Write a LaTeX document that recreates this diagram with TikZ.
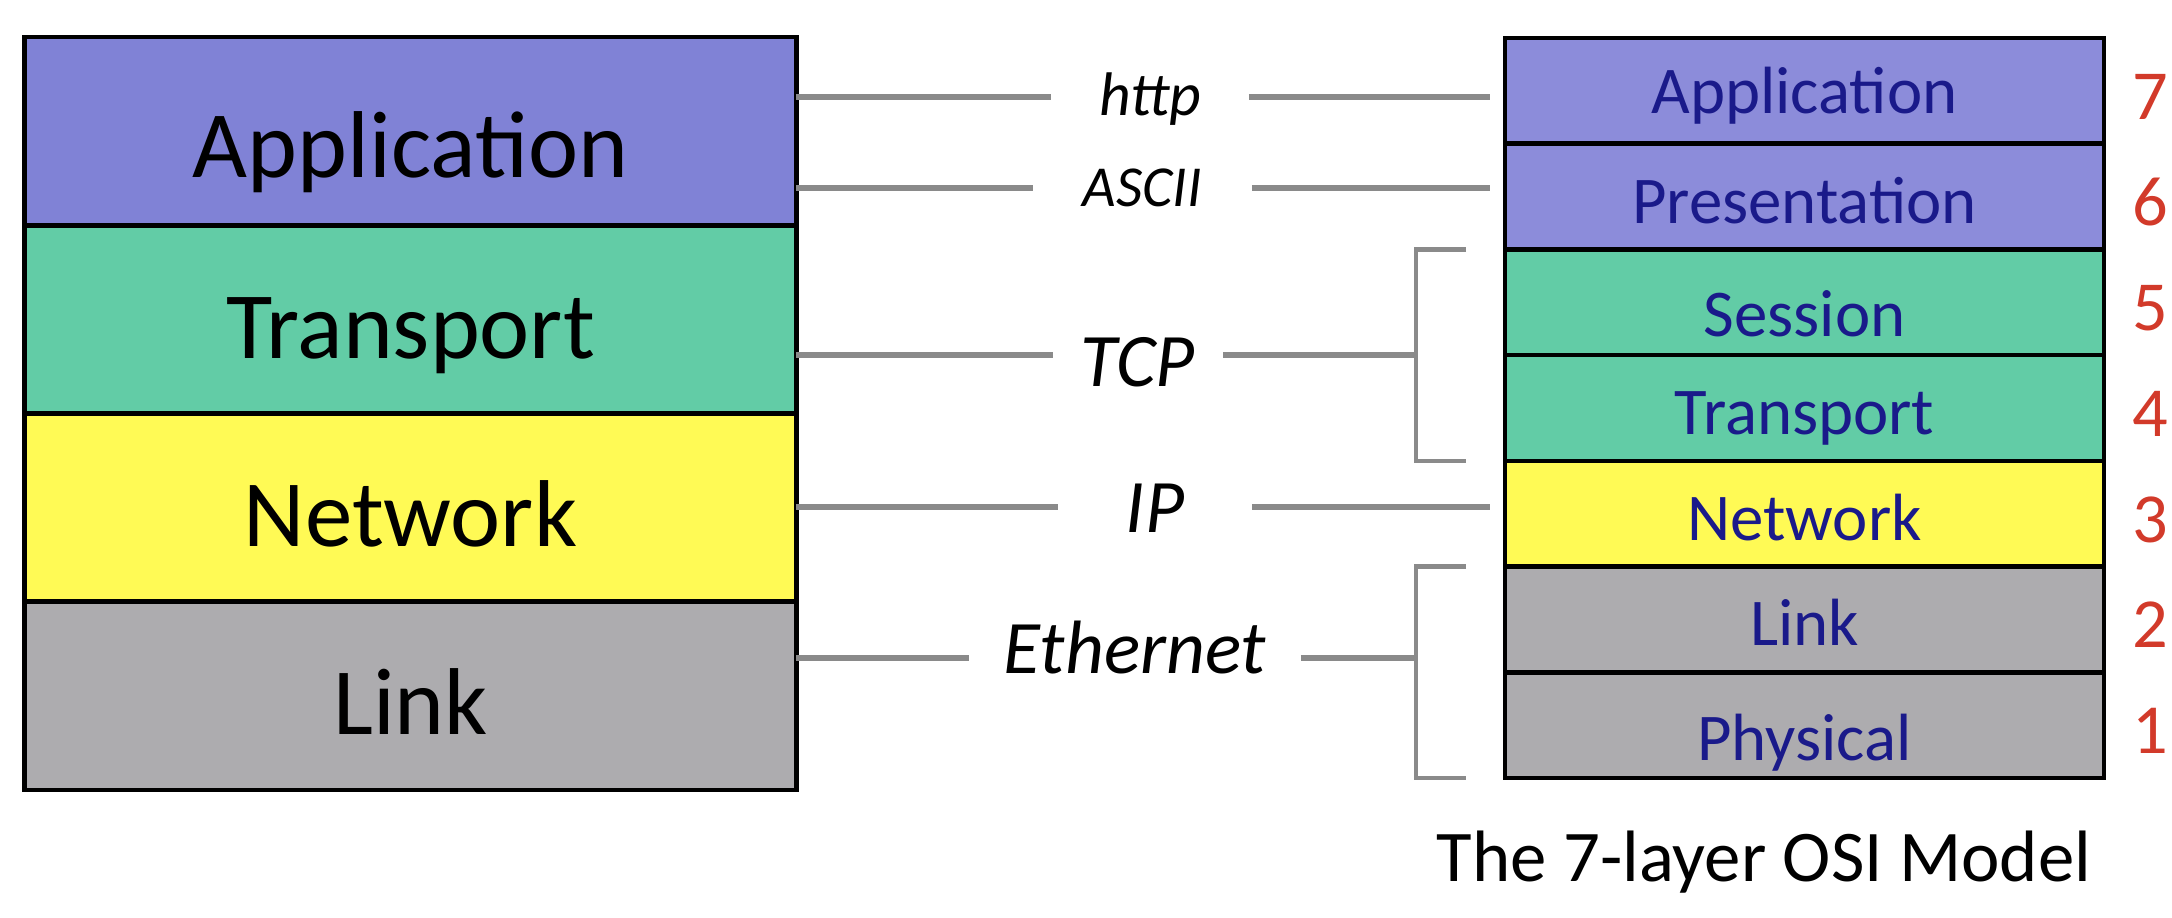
\documentclass[tikz,border=0pt]{standalone}
\usepackage{fontspec}
\setmainfont{Carlito}
\usetikzlibrary{calc}

\definecolor{appblue}{HTML}{8082D6}
\definecolor{appblueR}{HTML}{8C8CDA}
\definecolor{tpgreen}{HTML}{62CCA6}
\definecolor{netyellow}{HTML}{FFFA55}
\definecolor{linkgray}{HTML}{ADACAF}
\definecolor{osiblue}{HTML}{1A1A8A}
\definecolor{osired}{HTML}{D23A2A}
\definecolor{wiregray}{HTML}{8A8A8A}

\begin{document}
\begin{tikzpicture}[x=0.01cm, y=-0.01cm,
    layerL/.style={draw=black, line width=1.3pt, outer sep=0pt, inner sep=0pt,
        minimum width=7.71cm, minimum height=1.8825cm,
        text height=0.78cm, text depth=0pt, font=\fontsize{27}{31}\selectfont},
    layerR/.style={draw=black, line width=1.3pt, outer sep=0pt, inner sep=0pt,
        minimum width=5.99cm, minimum height=1.057cm, text=osiblue,
        text height=0.53cm, text depth=0pt, font=\fontsize{19}{23}\selectfont},
    proto/.style={inner sep=0pt, text height=0.5cm, text depth=0pt,
        font=\fontsize{21.5}{25}\selectfont\itshape},
    protosmall/.style={proto, text height=0.36cm, font=\fontsize{16.5}{19}\selectfont\itshape},
    wire/.style={draw=wiregray, line width=1.5pt},
    brace/.style={draw=wiregray, line width=1.2pt},
    num/.style={text=osired, inner sep=0pt, text height=0.43cm, text depth=0pt,
        font=\fontsize{20}{24}\selectfont},
    caption/.style={inner sep=0pt, text height=0.47cm, text depth=0pt,
        font=\fontsize{20.7}{25}\selectfont}]
    \useasboundingbox (0,0) rectangle (2172,918);

    % 左侧: 四层模型
    \node[layerL, fill=appblue, text height=0.93cm] (lapp) at (410.5,131.1) {Application};
    \node[layerL, fill=tpgreen] (ltra) at (410.5,319.4) {Transport};
    \node[layerL, fill=netyellow] (lnet) at (410.5,507.6) {Network};
    \node[layerL, fill=linkgray] (llnk) at (410.5,695.9) {Link};

    % 右侧: 七层 OSI 模型
    \node[layerR, fill=appblueR, text height=0.45cm] (rapp) at (1804.5,90.9) {Application};
    \node[layerR, fill=appblueR] (rpre) at (1804.5,196.6) {Presentation};
    \node[layerR, fill=tpgreen, text height=0.68cm] (rses) at (1804.5,302.3) {Session};
    \node[layerR, fill=tpgreen] (rtra) at (1804.5,408.0) {Transport};
    \node[layerR, fill=netyellow] (rnet) at (1804.5,513.7) {Network};
    \node[layerR, fill=linkgray] (rlnk) at (1804.5,619.4) {Link};
    \node[layerR, fill=linkgray, text height=0.70cm] (rphy) at (1804.5,725.1) {Physical};

    % 层编号
    \node[num] (n7) at (2150,97.9) {7};
    \node[num] (n6) at (2150,203.6) {6};
    \node[num] (n5) at (2150,309.3) {5};
    \node[num] (n4) at (2150,415.0) {4};
    \node[num] (n3) at (2150,520.7) {3};
    \node[num] (n2) at (2150,626.4) {2};
    \node[num] (n1) at (2150,732.1) {1};

    % 中间的协议名
    \node[protosmall, minimum width=1.96cm, font=\fontsize{17.5}{20}\selectfont\itshape] (http) at (1150,97) {http};
    \node[protosmall, minimum width=2.17cm] (ascii) at (1142.5,188) {ASCII};
    \node[proto, minimum width=1.69cm, text height=0.63cm] (tcp) at (1138,355) {TCP};
    \node[proto, minimum width=1.92cm] (ip) at (1155,507) {IP};
    \node[proto, minimum width=3.3cm, text depth=0.2cm] (eth) at (1135,658) {Ethernet};
    \coordinate (tcpbr) at (1416,355);
    \coordinate (ethbr) at (1416,658);

    % 连线
    \draw[wire] (lapp.east |- http.west) -- (http.west);
    \draw[wire, shorten >=0.15cm] (http.east) -- (rapp.west |- http.east);
    \draw[wire] (lapp.east |- ascii.west) -- (ascii.west);
    \draw[wire, shorten >=0.15cm] (ascii.east) -- (rpre.west |- ascii.east);
    \draw[wire] (ltra.east |- tcp.west) -- (tcp.west);
    \draw[wire] (tcp.east) -- (tcpbr);
    \draw[wire] (lnet.east |- ip.west) -- (ip.west);
    \draw[wire, shorten >=0.15cm] (ip.east) -- (rnet.west |- ip.east);
    \draw[wire] (llnk.east |- eth.west) -- (eth.west);
    \draw[wire] (eth.east) -- (ethbr);

    % 括号
    \draw[brace] ($(tcpbr |- rses.north)+(50,0)$) -- (tcpbr |- rses.north)
        -- (tcpbr |- rtra.south) -- +(50,0);
    \draw[brace] ($(ethbr |- rlnk.north)+(50,0)$) -- (ethbr |- rlnk.north)
        -- (ethbr |- rphy.south) -- +(50,0);

    % 标题
    \node[caption] (osicap) at (1764,858) {The 7-layer OSI Model};
\end{tikzpicture}
\end{document}
